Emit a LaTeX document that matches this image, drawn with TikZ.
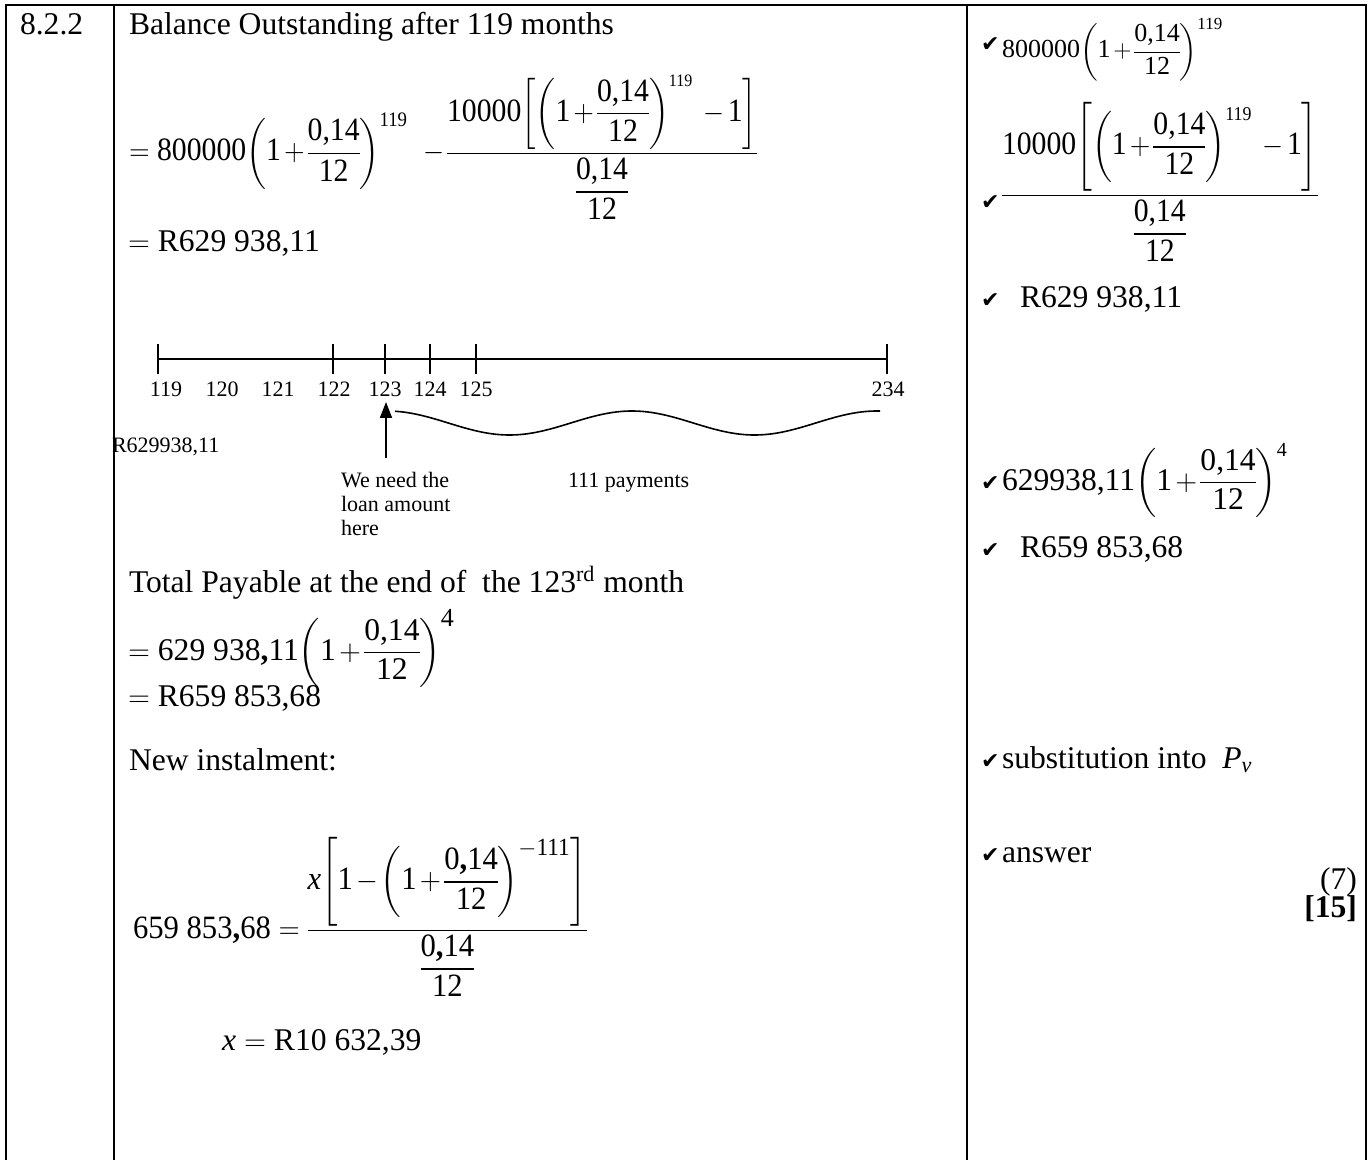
\documentclass[tikz,border=0pt]{standalone}
\usepackage{amsmath}
\usepackage{graphicx}
\usepackage{fontspec}
\setmainfont{Liberation Serif}
\newfontfamily\dejavu{DejaVu Sans}
\usetikzlibrary{arrows.meta}
\medmuskip=2mu plus 1mu minus 1mu
\nulldelimiterspace=0pt
\newcommand{\ck}{{\dejavu\fontsize{11}{12}\selectfont ✔}}
\newcommand{\tn}[1]{\text{#1}}
\newcommand{\ex}[2]{\text{\fontsize{#1}{#1}\selectfont #2}}
\newcommand{\bc}{\textbf{,}}
\newcommand{\pf}{{\left(\tn{1}+\dfrac{\tn{0,14}}{\tn{12}}\right)}}
\newcommand{\pfb}{{\left(\tn{1}+\dfrac{\tn{0\bc14}}{\tn{12}}\right)}}
\newcommand{\fr}{\dfrac{\tn{0,14}}{\tn{12}}}
\begin{document}
\begin{tikzpicture}[x=0.5pt,y=-0.5pt,
  every node/.style={font=\fontsize{15.8}{19}\selectfont, inner sep=0pt, outer sep=0pt},
  txt/.style={anchor=base west},
  rtxt/.style={anchor=base east},
  small/.style={anchor=base west, font=\fontsize{11}{13}\selectfont},
  lab/.style={anchor=base, font=\fontsize{11}{13}\selectfont},
  rule/.style={line width=1.1pt},
  tl/.style={line width=0.9pt},
  tick/.style={line width=0.7pt}]
\useasboundingbox (0,0) rectangle (1370,1160);

% table frame
\coordinate (tl0) at (6,5);
\coordinate (tr0) at (1366,5);
\coordinate (c1t) at (114,5);
\coordinate (c1b) at (114,1160);
\coordinate (c2t) at (967,5);
\coordinate (c2b) at (967,1160);
\coordinate (lb) at (6,1160);
\coordinate (rb) at (1366,1160);
\draw[rule] (lb) -- (tl0) -- (tr0) -- (rb);
\draw[rule] (c1t) -- (c1b);
\draw[rule] (c2t) -- (c2b);

% left column
\node[txt] (num) at (20,35) {8.2.2};
\node[txt] (title) at (129,35) {Balance Outstanding after 119 months};
\node[txt] (f1) at (129,161) {\scalebox{0.94}[1.03]{$=\tn{800000}\pf^{\ex{10}{119}}\;\,-\dfrac{\tn{10000}{\left[\pf^{\ex{8.5}{119}}\;-\tn{1}\right]}}{\fr}$}};
\node[txt] (r1) at (128,252) {$=$ R629 938,11};

% time line
\coordinate (t119) at (158,359);
\coordinate (t122) at (333,359);
\coordinate (t123) at (385,359);
\coordinate (t124) at (430,359);
\coordinate (t125) at (476,359);
\coordinate (t234) at (887,359);
\draw[tl] (t119) -- (t234);
\foreach \p in {t119,t122,t123,t124,t125,t234}{
  \draw[tick] ([yshift=7.5pt]\p) -- ([yshift=-7.5pt]\p);
}
\node[lab] (l119) at (166,397) {119};
\node[lab] (l120) at (222,397) {120};
\node[lab] (l121) at (278,397) {121};
\node[lab] (l122) at (334,397) {122};
\node[lab] (l123) at (385,397) {123};
\node[lab] (l124) at (430,397) {124};
\node[lab] (l125) at (476,397) {125};
\node[lab] (l234) at (888,397) {234};
\coordinate (atail) at (386,458);
\coordinate (atip) at (386,402);
\draw[line width=0.9pt,-{Triangle[length=8pt,width=6pt]}] (atail) -- (atip);
\draw[line width=0.8pt] plot[domain=395:880,samples=80,smooth] (\x,{423-12*cos(((\x-632)/245)*360)});
\node[small] (bal) at (112,452) {R629938,11};
\node[small] (need1) at (341,487) {We need the};
\node[small] (need2) at (341,511) {loan amount};
\node[small] (need3) at (341,535) {here};
\node[small] (pay) at (568,487) {111 payments};

\node[txt] (total) at (129,592) {Total Payable at the end of\ \ the 123\textsuperscript{rd} month};
\node[txt] (f2) at (128,660) {$=\tn{629 938\bc11}\pf^{\ex{13}{4}}$};
\node[txt] (r2) at (128,706) {$=$ R659 853,68};
\node[txt] (newi) at (129,770) {New instalment:};
\node[txt] (f3) at (133,938) {\scalebox{0.97}[1.03]{$\tn{659 853\bc68}=\dfrac{\tn{\itshape x}{\left[\tn{1}-\pfb^{\ex{12}{$-$111}}\right]}}{\dfrac{\tn{0\bc14}}{\tn{12}}}$}};
\node[txt] (xres) at (222,1050) {$\tn{\itshape x}=\tn{R10 632,39}$};

% right column
\node[txt] (k1) at (981,52) {\ck};
\node[txt,font=\fontsize{13}{15}\selectfont] (m1) at (1002,58) {$\tn{800000}\pf^{\ex{8.5}{119}}$};
\node[txt] (k2) at (981,210) {\ck};
\node[txt] (m2) at (1002,203) {\scalebox{0.94}[1.03]{$\dfrac{\tn{10000}{\left[\pf^{\ex{9.5}{119}}\;-\tn{1}\right]}}{\fr}$}};
\node[txt] (k3) at (981,308) {\ck};
\node[txt] (m3) at (1020,308) {R629 938,11};
\node[txt] (k4) at (981,490) {\ck};
\node[txt] (m4) at (1002,490) {$\tn{629938,11}\pf^{\ex{10}{4}}$};
\node[txt] (k5) at (981,557) {\ck};
\node[txt] (m5) at (1020,557) {R659 853,68};
\node[txt] (k6) at (981,768) {\ck};
\node[txt] (m6) at (1002,768) {substitution into\ \ $\tn{\itshape P}_{\tn{\itshape v}}$};
\node[txt] (k7) at (981,862) {\ck};
\node[txt] (m7) at (1002,862) {answer};
\node[rtxt] (mk7) at (1357,889) {(7)};
\node[rtxt] (mk15) at (1357,917) {\textbf{[15]}};
\end{tikzpicture}
\end{document}
